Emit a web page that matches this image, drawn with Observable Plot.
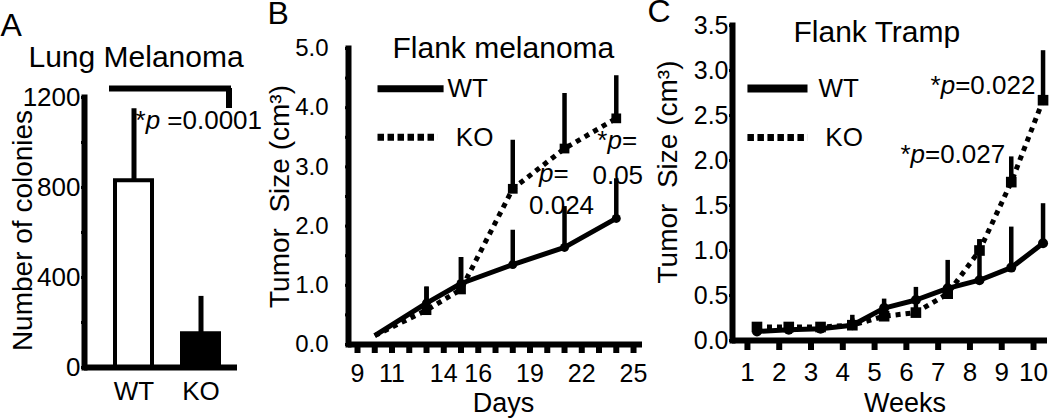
<!DOCTYPE html>
<html><head><meta charset="utf-8">
<script src="https://cdn.jsdelivr.net/npm/d3@7"></script>
<script src="https://cdn.jsdelivr.net/npm/@observablehq/plot@0.6"></script>
<style>
html,body{margin:0;padding:0;background:#fff;}
#wrap{position:relative;width:1050px;height:419px;overflow:hidden;background:#fff;}
#wrap svg{position:absolute;left:0;top:0;}
</style></head><body><div id="wrap"></div>
<script>
// ---------- Panel A: Lung Melanoma ----------
const groupsA = ["WT", "KO"];
const coloniesA = [830, 150];
const coloniesErrA = [320, 166];
const yLabelsA = [0, 400, 800, 1200];
const yTicksA = [0, 200, 400, 600, 800, 1000, 1200];

// ---------- Panel B: Flank melanoma ----------
const daysB = [10, 13, 15, 18, 21, 24];
const wtB = [0.15, 0.70, 1.03, 1.35, 1.64, 2.13];
const wtErrB = [null, 0.27, 0.44, 0.58, 0.69, 0.67];
const koB = [0.15, 0.58, 0.93, 2.63, 3.31, 3.82];
const koErrB = [null, 0.39, 0.54, 0.82, 0.93, 0.72];
const dayTicksB = [9, 10, 11, 12, 13, 14, 15, 16, 17, 18, 19, 20, 21, 22, 23, 24, 25];
const dayLabelsB = [9, 11, 14, 16, 19, 22, 25];
const yTicksB = [0, 0.5, 1, 1.5, 2, 2.5, 3, 3.5, 4, 4.5, 5];
const yLabelsB = [0, 1, 2, 3, 4, 5];

// ---------- Panel C: Flank Tramp ----------
const weekTicksC = [1, 2, 3, 4, 5, 6, 7, 8, 9, 10];
const weekPosC = [1.3, 2.3, 3.3, 4.3, 5.3, 6.3, 7.3, 8.3, 9.3, 10.3];
const wtC = [0.10, 0.12, 0.13, 0.17, 0.36, 0.45, 0.58, 0.67, 0.81, 1.08];
const wtErrC = [0.05, 0.05, 0.05, 0.07, 0.10, 0.14, 0.31, 0.45, 0.45, 0.44];
const koC = [0.15, 0.15, 0.15, 0.17, 0.27, 0.31, 0.52, 1.00, 1.76, 2.67];
const koErrC = [0.05, 0.05, 0.05, 0.11, 0.11, 0.11, 0.10, 0.12, 0.28, 0.55];
const yTicksC = [0, 0.5, 1, 1.5, 2, 2.5, 3, 3.5];

const W = 1050, H = 419;
const FONT = "'Liberation Sans', Arial, Helvetica, sans-serif";
const base = {width: W, height: H, style: {background: "transparent", fontFamily: FONT, color: "black", overflow: "visible"}};
const mid = {lineAnchor: "middle"};

// ----- A -----
const dataA = groupsA.map((g, i) => ({group: g, value: coloniesA[i], err: coloniesErrA[i]}));
const plotA = Plot.plot({
  ...base,
  marginLeft: 84, marginRight: W - 237, marginTop: 97, marginBottom: H - 367,
  x: {type: "band", domain: groupsA, paddingInner: 0.441, paddingOuter: 0.3456, align: 0.638, axis: null},
  y: {domain: [0, 1200], axis: null},
  marks: [
    Plot.barY(dataA, {x: "group", y: "value", fill: d => d.group === "KO" ? "black" : "white", stroke: "black", strokeWidth: 4}),
    Plot.ruleX(dataA, {x: "group", y1: "value", y2: d => d.value + d.err, strokeWidth: 5}),
    Plot.axisY({ticks: yTicksA, tickSize: 3, tickPadding: 1, strokeWidth: 3, fontSize: 26, label: null,
      tickFormat: d => yLabelsA.includes(d) ? String(d) : ""}),
    Plot.axisX({tickSize: 0, tickPadding: 14, fontSize: 26, label: null}),
    Plot.ruleY([0], {strokeWidth: 6}),
    Plot.frame({anchor: "left", strokeWidth: 6}),
    Plot.ruleY([1240], {x1: () => "WT", x2: () => "KO", insetLeft: -6, insetRight: -12, strokeWidth: 6}),
    Plot.ruleX(["KO"], {y1: 1151, y2: 1240, dx: 28, strokeWidth: 6}),
    Plot.text(["*p =0.0001"], {frameAnchor: "top-left", dx: 51, dy: 23, textAnchor: "start", fontSize: 26, ...mid}),
    Plot.text(["Lung Melanoma"], {frameAnchor: "top-left", dx: -56, dy: -40, textAnchor: "start", fontSize: 30, ...mid}),
    Plot.text(["A"], {frameAnchor: "top-left", dx: -84, dy: -72, textAnchor: "start", fontSize: 32, ...mid}),
    Plot.text(["Number of colonies"], {frameAnchor: "left", rotate: -90, dx: -61, dy: -2, fontSize: 28, textAnchor: "middle", ...mid})
  ]
});

// ----- B -----
const rec = (xs, vals, errs) => xs.map((x, i) => ({x, value: vals[i], err: errs[i]}));
const wtDataB = rec(daysB, wtB, wtErrB);
const koDataB = rec(daysB, koB, koErrB);
const hasErr = d => d.err != null;
const plotB = Plot.plot({
  ...base,
  marginLeft: 348, marginRight: W - 642, marginTop: 48, marginBottom: H - 344,
  x: {domain: [8.478, 25.52], axis: null},
  y: {domain: [0, 5], axis: null},
  marks: [
    Plot.ruleX(wtDataB.filter(hasErr), {x: "x", y1: "value", y2: d => d.value + d.err, strokeWidth: 4.5}),
    Plot.ruleX(koDataB.filter(hasErr), {x: "x", y1: "value", y2: d => d.value + d.err, strokeWidth: 4.5}),
    Plot.line(wtDataB, {x: "x", y: "value", strokeWidth: 5, strokeLinecap: "butt"}),
    Plot.line(koDataB, {x: "x", y: "value", strokeWidth: 5, strokeDasharray: "5,5", strokeLinecap: "butt"}),
    Plot.dot(wtDataB.filter(hasErr), {x: "x", y: "value", r: 4.5, fill: "black", stroke: "none"}),
    Plot.dot(koDataB.filter(hasErr), {x: "x", y: "value", r: 5.5, symbol: "square", fill: "black", stroke: "none"}),
    Plot.axisY({ticks: yTicksB, tickSize: 3, tickPadding: 17, strokeWidth: 3, fontSize: 24, label: null,
      tickFormat: d => yLabelsB.includes(d) ? d.toFixed(1) : ""}),
    Plot.axisX({ticks: dayTicksB, tickSize: 9, tickPadding: 11, strokeWidth: 6, fontSize: 25, label: null,
      tickFormat: d => dayLabelsB.includes(d) ? String(d) : ""}),
    Plot.ruleY([0], {strokeWidth: 6}),
    Plot.frame({anchor: "left", strokeWidth: 6}),
    // legend
    Plot.link([0], {x1: 10.16, x2: 13.99, y1: 4.32, y2: 4.32, strokeWidth: 7, strokeLinecap: "butt"}),
    Plot.link([0], {x1: 10.16, x2: 13.64, y1: 3.50, y2: 3.50, strokeWidth: 7, strokeDasharray: "6.5,3.5", strokeLinecap: "butt"}),
    Plot.text(["WT"], {x: 14.22, y: 4.32, textAnchor: "start", fontSize: 26}),
    Plot.text(["KO"], {x: 14.70, y: 3.50, textAnchor: "start", fontSize: 26}),
    // annotations
    Plot.text(["*p="], {x: 22.90, y: 3.45, textAnchor: "start", fontSize: 26}),
    Plot.text(["0.05"], {x: 22.62, y: 2.85, textAnchor: "start", fontSize: 26}),
    Plot.text(["p="], {x: 19.52, y: 2.89, textAnchor: "start", fontSize: 26}),
    Plot.text(["0.024"], {x: 18.94, y: 2.35, textAnchor: "start", fontSize: 26}),
    Plot.text(["Flank melanoma"], {frameAnchor: "top-left", dx: 44, dy: 0, textAnchor: "start", fontSize: 30, ...mid}),
    Plot.text(["B"], {frameAnchor: "top-left", dx: -81, dy: -35, textAnchor: "start", fontSize: 32, ...mid}),
    Plot.text(["Tumor\u00a0 Size (cm\u00b3)"], {frameAnchor: "left", rotate: -90, dx: -68, fontSize: 28, textAnchor: "middle", ...mid}),
    Plot.text(["Days"], {frameAnchor: "bottom", dx: 8, dy: 59, fontSize: 27, textAnchor: "middle", ...mid})
  ]
});

// ----- C -----
const wtDataC = rec(weekPosC, wtC, wtErrC);
const koDataC = rec(weekPosC, koC, koErrC);
const plotC = Plot.plot({
  ...base,
  marginLeft: 732, marginRight: W - 1047, marginTop: 25, marginBottom: H - 340,
  x: {domain: [0.53, 10.44], axis: null},
  y: {domain: [0, 3.5], axis: null},
  marks: [
    Plot.ruleX(wtDataC, {x: "x", y1: "value", y2: d => d.value + d.err, strokeWidth: 4.5}),
    Plot.ruleX(koDataC, {x: "x", y1: "value", y2: d => d.value + d.err, strokeWidth: 4.5}),
    Plot.line(wtDataC, {x: "x", y: "value", strokeWidth: 5, strokeLinecap: "butt"}),
    Plot.line(koDataC, {x: "x", y: "value", strokeWidth: 5, strokeDasharray: "5,5", strokeLinecap: "butt"}),
    Plot.dot(wtDataC, {x: "x", y: "value", r: 5, fill: "black", stroke: "none"}),
    Plot.dot(koDataC, {x: "x", y: "value", r: 6, symbol: "square", fill: "black", stroke: "none"}),
    Plot.axisY({ticks: yTicksC, tickSize: 3, tickPadding: 1, strokeWidth: 3, fontSize: 25, label: null,
      tickFormat: d => d.toFixed(1)}),
    Plot.axisX({ticks: weekTicksC, tickSize: 10, tickPadding: 12, strokeWidth: 6, fontSize: 26, label: null,
      tickFormat: d => String(d)}),
    Plot.ruleY([0], {strokeWidth: 6}),
    Plot.frame({anchor: "left", strokeWidth: 6}),
    // legend
    Plot.link([0], {x1: 1.00, x2: 2.89, y1: 2.80, y2: 2.80, strokeWidth: 8, strokeLinecap: "butt"}),
    Plot.link([0], {x1: 1.00, x2: 2.89, y1: 2.256, y2: 2.256, strokeWidth: 7, strokeDasharray: "6.5,3.5", strokeLinecap: "butt"}),
    Plot.text(["WT"], {x: 3.235, y: 2.80, textAnchor: "start", fontSize: 26}),
    Plot.text(["KO"], {x: 3.45, y: 2.256, textAnchor: "start", fontSize: 26}),
    // annotations
    Plot.text(["*p=0.022"], {x: 10.06, y: 2.83, textAnchor: "end", fontSize: 26}),
    Plot.text(["*p=0.027"], {x: 9.11, y: 2.06, textAnchor: "end", fontSize: 26}),
    Plot.text(["Flank Tramp"], {frameAnchor: "top-left", dx: 61, dy: 7, textAnchor: "start", fontSize: 30, ...mid}),
    Plot.text(["C"], {frameAnchor: "top-left", dx: -85, dy: -14, textAnchor: "start", fontSize: 32, ...mid}),
    Plot.text(["Tumor\u00a0 Size (cm\u00b3)"], {frameAnchor: "left", rotate: -90, dx: -64, dy: -11, fontSize: 28, textAnchor: "middle", ...mid}),
    Plot.text(["Weeks"], {frameAnchor: "bottom", dx: 15, dy: 63, fontSize: 27, textAnchor: "middle", ...mid})
  ]
});

const wrap = document.getElementById("wrap");
[plotA, plotB, plotC].forEach(p => wrap.appendChild(p));

// italic "p" in p-value annotations
const NS = "http://www.w3.org/2000/svg";
wrap.querySelectorAll("text").forEach(t => {
  if (t.querySelector("tspan")) return;
  const m = t.textContent.match(/^(\*?)p( ?=.*)$/);
  if (!m) return;
  t.textContent = "";
  if (m[1]) { const a = document.createElementNS(NS, "tspan"); a.textContent = m[1]; t.appendChild(a); }
  const p = document.createElementNS(NS, "tspan"); p.setAttribute("font-style", "italic"); p.textContent = "p"; t.appendChild(p);
  const r = document.createElementNS(NS, "tspan"); r.textContent = m[2]; t.appendChild(r);
});
</script>
</body></html>
